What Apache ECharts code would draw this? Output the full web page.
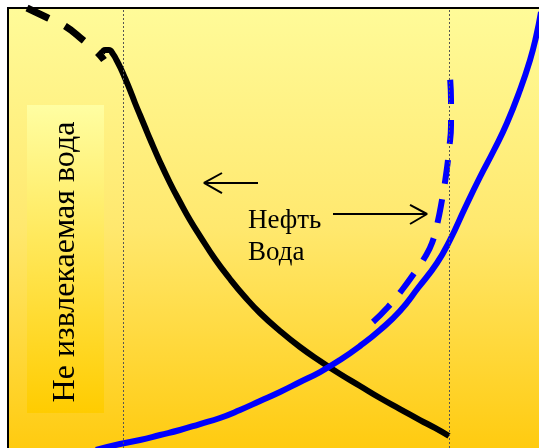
<!DOCTYPE html>
<html><head><meta charset="utf-8">
<script src="https://cdn.jsdelivr.net/npm/echarts@6/dist/echarts.min.js"></script>
<style>html,body{margin:0;padding:0;background:#fff;overflow:hidden}#c{width:539px;height:448px}</style>
</head><body><div id="c"></div>
<script>
// Oil (black) curve, dashed extrapolation part
const oilDashed = [[3.58,100],[7.53,97.73],[10.73,95.91],[14.12,92.73],[16.76,90.0],[18.08,88.18]];
// Oil (black) curve, solid part
const oilSolid = [[17.70,89.77],[18.27,90.45],[19.02,90.45],[19.77,89.55],[20.53,87.95],[21.28,86.14],[22.03,84.09],[22.98,81.36],[23.92,78.41],[24.86,75.68],[25.80,72.95],[26.74,70.23],[28.63,65.0],[30.51,60.23],[32.39,55.91],[34.27,51.82],[36.16,48.18],[38.98,42.95],[41.81,38.41],[44.63,34.32],[47.46,30.68],[51.22,26.59],[54.99,22.95],[58.76,19.77],[62.52,16.82],[66.29,14.09],[70.06,11.36],[73.82,8.86],[77.59,6.36],[80.41,4.55],[83.05,2.73]];
// Water (blue) curve, solid
const waterSolid = [[16.57,-0.45],[21.09,0.91],[24.86,1.82],[28.63,2.95],[32.39,4.09],[36.16,5.45],[39.92,6.82],[43.69,8.64],[47.46,10.68],[51.22,12.73],[54.99,15.0],[58.76,17.27],[62.52,20.0],[66.29,23.18],[70.06,26.82],[73.82,31.14],[77.21,36.36],[80.79,42.05],[83.24,47.27],[86.06,54.55],[88.89,61.59],[91.53,67.73],[93.97,73.86],[96.42,81.36],[98.31,88.18],[99.44,93.41],[100.38,99.09]];
// Water (blue) curve, dashed
const waterDashed = [[68.74,28.64],[71.56,32.05],[74.20,35.91],[76.65,40.0],[78.53,43.41],[79.85,46.59],[80.79,50.68],[81.73,56.36],[82.49,62.05],[83.05,67.73],[83.43,73.41],[83.43,79.09],[83.05,86.6]];
// Vertical reference lines (x positions)
const refLines = [21.66, 83.05];
// Arrows (shaft + open head), broken by nulls
const arrowLeft = [[47.08,60.23],[36.91,60.23],null,[40.30,62.5],[36.91,60.23],[40.30,57.95]];
const arrowRight = [[61.21,53.18],[78.91,53.18],null,[75.71,55.23],[78.91,53.18],[75.71,50.91]];
// Texts
const labelText = 'Нефть\nВода';
const sideText = 'Не извлекаемая вода';

const chart = echarts.init(document.getElementById('c'));
const serif = '"Liberation Serif", "DejaVu Serif", serif';
chart.setOption({
  animation: false,
  grid: { left: 8, top: 8, right: 0, bottom: 0, show: false },
  xAxis: {type:'value', min:0, max:100, show:false},
  yAxis: {type:'value', min:0, max:100, show:false},
  graphic: [
    {type:'rect', z:0, shape:{x:8,y:8,width:531,height:440},
     style:{fill:new echarts.graphic.LinearGradient(0,0,0,1,[
      {offset:0,color:'#FFFB99'},{offset:0.5,color:'#FFE86E'},{offset:1,color:'#FFCB10'}])}},
    {type:'rect', z:1, shape:{x:27,y:105,width:77,height:308},
     style:{fill:new echarts.graphic.LinearGradient(0,0,0,1,[
       {offset:0,color:'#FFFEA2'},{offset:1,color:'#FFCC00'}])}},
    {type:'text', z:10, x:66, y:262, rotation:Math.PI/2,
     style:{text:sideText, font:'32px '+serif, fill:'#000', align:'center', verticalAlign:'middle'}},
    {type:'text', z:10, x:248, y:205,
     style:{text:labelText, font:'27px '+serif, fill:'#000', lineHeight:32, align:'left', verticalAlign:'top'}},
    {type:'line', z:100, shape:{x1:7,y1:8,x2:539,y2:8}, style:{stroke:'#000',lineWidth:2}},
    {type:'line', z:100, shape:{x1:8,y1:7,x2:8,y2:448}, style:{stroke:'#000',lineWidth:2}}
  ],
  series: [
    {type:'line', data:[], markLine:{silent:true, symbol:'none', label:{show:false},
      lineStyle:{color:'#555', type:[2,2], width:1},
      data: refLines.map(v=>({xAxis:v}))}},
    {type:'line', data:oilDashed, smooth:0.5, symbol:'none', lineStyle:{color:'#000', width:7, type:[24,18]}},
    {type:'line', data:oilSolid, smooth:0.5, symbol:'none', lineStyle:{color:'#000', width:6}},
    {type:'line', data:waterSolid, smooth:0.5, symbol:'none', lineStyle:{color:'#0000FF', width:6}},
    {type:'line', data:waterDashed, smooth:0.5, symbol:'none', lineStyle:{color:'#0000FF', width:6, type:[24,16]}},
    {type:'line', data:arrowLeft, symbol:'none', connectNulls:false, lineStyle:{color:'#000', width:2}},
    {type:'line', data:arrowRight, symbol:'none', connectNulls:false, lineStyle:{color:'#000', width:2}}
  ]
});
</script>
</body></html>
